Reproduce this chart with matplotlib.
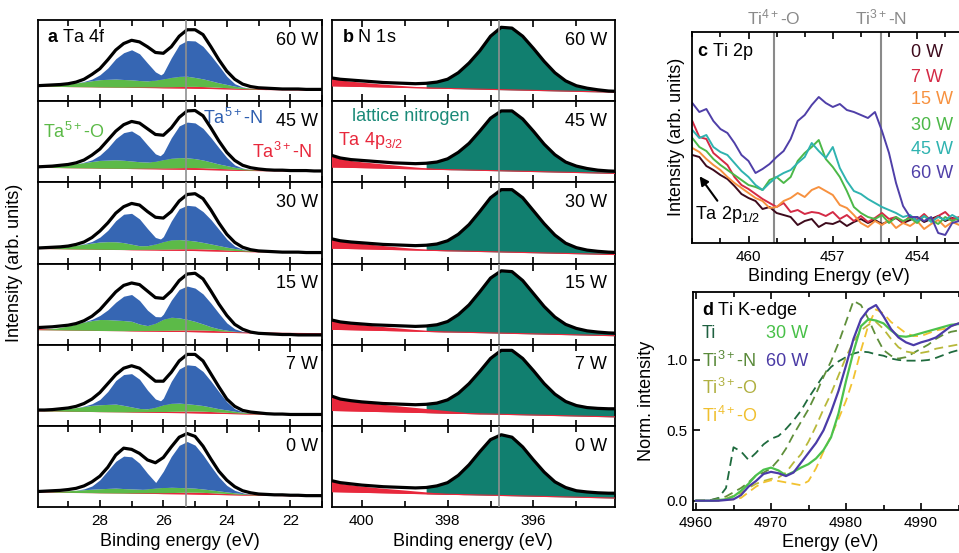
import matplotlib
matplotlib.use('Agg')
import matplotlib.pyplot as plt
import numpy as np
from matplotlib.ticker import MultipleLocator, FixedLocator, NullLocator

plt.rcParams['font.family'] = ['Liberation Sans', 'DejaVu Sans']
plt.rcParams['mathtext.fontset'] = 'custom'
plt.rcParams['mathtext.rm'] = 'Liberation Sans'
plt.rcParams['mathtext.it'] = 'Liberation Sans:italic'
plt.rcParams['mathtext.bf'] = 'Liberation Sans:bold'
plt.rcParams['axes.linewidth'] = 1.3
plt.rcParams['xtick.labelsize'] = 11
plt.rcParams['ytick.labelsize'] = 11

powers = ['60 W', '45 W', '30 W', '15 W', '7 W', '0 W']

# ---- a: Ta 4f (rows follow powers, top to bottom) ----
ta_energy = np.linspace(30.0, 21.0, 37)
ta_ticks = [28, 26, 24, 22]
ta_envelope = [
    [19, 19.5, 20, 20.5, 21.5, 23.5, 27, 33, 40, 51, 63, 71, 75, 73, 67, 60, 59, 67, 80, 88,
     88, 82, 67, 51, 37, 27, 21, 18, 16.5, 16, 15.5, 15, 15, 15, 14.5, 14.5, 14.5],
    [19, 19.5, 20, 21, 22, 24, 27.5, 33.5, 41, 52, 63, 71, 75, 73, 66, 59, 58, 67, 80, 88,
     88.5, 82, 67, 51, 37, 27, 21, 18, 16.5, 15.5, 15, 15, 14.5, 14.5, 14.5, 14, 14],
    [19, 19.5, 20, 20.5, 21.5, 23.5, 26.5, 32, 40, 50, 62, 70, 74, 72, 64, 57, 56, 64, 77, 85,
     86, 80, 66, 50, 36, 26, 20, 17, 15.5, 15, 14.5, 14, 14, 14, 13.5, 13.5, 13.5],
    [21, 21.5, 22, 23, 24, 26, 29.5, 35, 43, 54, 65, 73, 76, 74, 66, 58, 57, 66, 79, 87,
     88, 81, 66, 50, 36, 25, 19, 15.5, 14, 13.5, 13, 12.5, 12.5, 12, 12, 12, 12],
    [19.5, 19.5, 20, 21, 22, 24, 27.5, 33, 41, 52, 63, 71, 74, 71, 63, 55, 55, 66, 80, 88,
     88, 80, 64, 48, 33, 24, 19, 17, 16, 15, 14.5, 14.5, 14, 14, 14, 14, 14],
    [19, 19.5, 20, 20.5, 21.5, 23, 26, 31, 38, 49, 64, 72.5, 71, 66, 58, 54.5, 61, 74, 86, 90.5,
     87, 75, 59, 44, 33, 25, 20, 17.5, 16, 15.5, 15, 15, 14.5, 14.5, 14, 14, 14],
]
ta_background = [18.5, 18.4, 18.3, 18.2, 18.0, 17.9, 17.8, 17.7, 17.5, 17.4,
                 17.3, 17.2, 17.0, 16.9, 16.8, 16.7, 16.5, 16.4, 16.3, 16.2,
                 16.0, 15.8, 15.6, 15.4, 15.2, 15.0, 14.8, 14.6, 14.5, 14.3,
                 14.2, 14.0, 13.9, 13.8, 13.7, 13.6, 13.5]
ta3_n = [0] * 12 + [0.3, 0.5, 0.7, 0.9, 1.1, 1.4, 1.7, 2.0, 2.2, 2.2, 2.0, 1.7, 1.4, 1.0,
                    0.7, 0.4, 0.2] + [0] * 8
ta5_o = [
    [0, 0.3, 1, 2, 3, 4.5, 6, 7.5, 9, 9.5, 10, 9.5, 9, 8, 7.5, 8.5, 10, 11.5, 12.5, 12.5,
     11, 9.5, 7.5, 5.5, 4, 2.5, 1.5, 0.8, 0.3, 0, 0, 0, 0, 0, 0, 0, 0],
    [0, 0.3, 1, 2, 3.5, 5, 6.5, 8, 9.5, 10, 10.5, 10, 9, 8, 7.5, 8.5, 10.5, 12, 12.5, 12,
     11, 9.5, 7.5, 5.5, 4, 2.5, 1.5, 0.8, 0.3, 0, 0, 0, 0, 0, 0, 0, 0],
    [0, 0.3, 1, 2, 3, 4.5, 6, 7.5, 9, 9.5, 9.5, 8.5, 6.5, 4.5, 4.5, 6.5, 9.5, 11.5, 11.5, 10.5,
     9.5, 8, 6.5, 5, 3.5, 2.5, 1.5, 0.8, 0.3, 0, 0, 0, 0, 0, 0, 0, 0],
    [0, 0.5, 1.5, 3, 5, 7.5, 10, 12, 13.5, 13.5, 13, 12.5, 11.5, 8, 6, 9, 14, 16, 15, 13,
     10.5, 7.5, 4.5, 2.5, 1.2, 0.5, 0.2, 0, 0, 0, 0, 0, 0, 0, 0, 0, 0],
    [0, 0.3, 1, 2, 3, 4.5, 6, 7.5, 8.5, 9, 9.5, 8, 6, 4, 3.5, 5.5, 8.5, 10, 10, 9,
     8, 7, 5.5, 4, 3, 2, 1.2, 0.6, 0.2, 0, 0, 0, 0, 0, 0, 0, 0],
    [0, 0.2, 0.5, 1.2, 2, 2.8, 3.5, 4.2, 5, 5.5, 6, 5.5, 5, 4.5, 5, 6, 6.5, 6.5, 6, 5.5,
     5, 4.2, 3.5, 2.8, 2, 1.5, 1, 0.5, 0.3, 0, 0, 0, 0, 0, 0, 0, 0],
]
ta5_n_high = [
    [0, 0, 0, 0, 0, 0, 0.5, 2, 6, 14, 25, 33, 37, 33, 22, 10, 3, 0.5, 0, 0] + [0] * 17,
    [0, 0, 0, 0, 0, 0, 0.5, 2, 6.5, 15, 26, 34, 37, 32, 21, 9, 3, 0.5, 0, 0] + [0] * 17,
    [0, 0, 0, 0, 0, 0, 0.5, 2, 6, 14, 26, 35, 38, 33, 21, 8, 2, 0.3, 0, 0] + [0] * 17,
    [0, 0, 0, 0, 0, 0, 0.3, 1.5, 5, 12, 22, 30, 33, 29, 19, 8, 2.5, 0.3, 0, 0] + [0] * 17,
    [0, 0, 0, 0, 0, 0, 0.5, 2, 6.5, 16, 29, 38, 41, 36, 23, 10, 3.5, 0.5, 0, 0] + [0] * 17,
    [0, 0, 0, 0, 0, 0, 1, 4, 11, 22, 33, 40, 39.5, 32, 19, 7, 1.5, 0, 0, 0] + [0] * 17,
]
ta5_n_low = [
    [0] * 14 + [0, 1, 7, 24, 39, 44, 45, 40, 31, 21, 10, 3, 0.5, 0] + [0] * 9,
    [0] * 14 + [0, 1.5, 8, 25, 39, 44, 44, 39, 30, 20, 10, 3, 0.5, 0] + [0] * 9,
    [0] * 14 + [0, 0.5, 6, 23, 38, 43, 43, 38, 30, 20, 10, 3, 0.5, 0] + [0] * 9,
    [0] * 14 + [0, 1, 6, 21, 35, 41, 41, 37, 29, 19, 9, 3, 0.5, 0] + [0] * 9,
    [0] * 14 + [0, 1.5, 8, 27, 42, 48, 48, 42, 32, 21, 10, 3, 0.5, 0] + [0] * 9,
    [0] * 13 + [0, 2, 6, 20, 38, 52, 57, 53, 42, 29, 17, 8, 3, 1, 0] + [0] * 9,
]

# ---- b: N 1s ----
n1s_energy = np.linspace(400.75, 394.0, 28)
n1s_ticks = [400, 398, 396]
n1s_envelope = [
    [29, 27, 26, 25, 24, 23, 22.5, 22, 21.5, 22, 23.5, 27, 35, 47, 62, 80, 91, 90, 80, 65,
     49, 35, 25, 19, 16, 14, 12.5, 12],
    [34, 30, 28, 27, 26, 25, 24, 23.5, 23, 23.5, 25, 29, 37, 48, 63, 79, 88, 88, 78, 63,
     47, 34, 25, 20, 17, 15, 14, 13.5],
    [31, 28, 26.5, 25.5, 24.5, 23.5, 23, 22.5, 22, 22.5, 24, 28, 36, 48, 64, 81, 91, 91, 81, 65,
     49, 35, 25, 19.5, 16.5, 15, 14, 13.5],
    [31, 28, 26.5, 25.5, 24.5, 24, 23.5, 23, 22.5, 23, 24.5, 28.5, 37, 49, 65, 82, 91, 90, 79, 63,
     47, 34, 25, 20, 17, 15.5, 14.5, 14],
    [37.5, 33, 31, 29.5, 28.5, 27.5, 27, 26.5, 26, 26.5, 28, 32, 40, 52, 67, 83, 93, 93, 83, 68,
     52, 39, 30, 25, 22.5, 21.5, 21, 21],
    [33, 30, 28.5, 27, 26, 25, 24.5, 24, 23.5, 24, 26, 30, 39, 52, 68, 83, 89, 86, 74, 58,
     43, 31, 24, 20, 18.5, 17.5, 17, 17],
]
n1s_background = [19.0, 18.7, 18.4, 18.1, 17.8, 17.5, 17.2, 16.9, 16.6, 16.3,
                  16.0, 15.7, 15.4, 15.1, 14.8, 14.5, 14.2, 13.9, 13.6, 13.3,
                  13.0, 12.7, 12.4, 12.1, 11.8, 11.5, 11.2, 10.9]
ta4p = [
    [9.5, 7.5, 6.2, 5.2, 4.3, 3.5, 2.8, 2.1, 1.5, 1.0, 0.5, 0.2] + [0] * 16,
    [14, 10.5, 8.5, 7.2, 6.2, 5.2, 4.2, 3.2, 2.3, 1.5, 0.8, 0.3] + [0] * 16,
    [11.5, 9, 7.6, 6.6, 5.6, 4.6, 3.7, 2.8, 2, 1.3, 0.7, 0.3] + [0] * 16,
    [11.5, 9, 7.6, 6.6, 5.6, 4.8, 3.9, 3, 2.1, 1.4, 0.7, 0.3] + [0] * 16,
    [17.5, 14, 12.5, 11, 10, 9, 8, 7, 6, 5, 4, 3, 2, 1, 0.4] + [0] * 13,
    [13.5, 10.5, 9, 7.6, 6.6, 5.6, 4.8, 4, 3.1, 2.3, 1.5, 0.8, 0.3] + [0] * 15,
]
lattice_n_start = 398.5

# ---- c: Ti 2p ----
ti2p_energy = np.linspace(462.0, 452.5, 39)
ti2p_ticks = [460, 457, 454]
ti2p_labels = ['0 W', '7 W', '15 W', '30 W', '45 W', '60 W']
ti2p_0w = [88, 86, 77, 73, 68, 64, 57, 49, 45, 42, 34, 36, 30, 28, 26, 18, 22, 24, 16, 20,
           19, 22, 17, 21, 24, 20, 23, 19, 22, 25, 20, 23, 26, 21, 24, 27, 22, 25, 23]
ti2p_7w = [122, 106, 104, 90, 84, 78, 66, 58, 54, 49, 44, 40, 36, 40, 31, 33, 29, 31, 30, 27,
           31, 24, 28, 22, 27, 21, 25, 30, 24, 26, 20, 27, 23, 29, 22, 27, 31, 24, 26]
ti2p_15w = [95, 91, 84, 78, 73, 66, 60, 55, 50, 45, 42, 35, 36, 42, 45, 50, 46, 53, 56, 52,
            48, 38, 35, 28, 20, 16, 22, 18, 23, 15, 20, 17, 22, 14, 19, 23, 16, 21, 18]
ti2p_30w = [105, 96, 92, 84, 78, 73, 68, 63, 58, 56, 53, 63, 66, 60, 66, 82, 90, 96, 103, 84,
            76, 66, 52, 36, 30, 26, 24, 28, 20, 26, 22, 25, 20, 27, 23, 19, 26, 22, 25]
ti2p_45w = [113, 105, 108, 96, 91, 88, 80, 72, 66, 58, 53, 60, 66, 70, 73, 80, 86, 100, 92, 85,
            96, 75, 62, 52, 49, 44, 40, 36, 33, 30, 26, 28, 22, 27, 21, 26, 23, 28, 24]
ti2p_60w = [140, 131, 134, 122, 114, 110, 100, 88, 82, 70, 74, 79, 86, 92, 104, 122, 128, 138, 146, 140,
            136, 139, 133, 131, 128, 125, 131, 112, 90, 60, 37, 26, 26, 22, 26, 10, 8, 20, 22]

# ---- d: Ti K-edge ----
tik_energy = np.arange(4960, 4997)
tik_ti = [0, 0, 0.005, 0.02, 0.09, 0.38, 0.35, 0.29, 0.34, 0.40, 0.44, 0.46, 0.51, 0.57, 0.64,
          0.73, 0.81, 0.89, 0.95, 0.99, 1.02, 1.045, 1.06, 1.055, 1.04, 1.03, 1.01, 1.0, 0.995,
          0.995, 0.995, 1.0, 1.015, 1.035, 1.055, 1.07, 1.08]
tik_ti3n = [0, 0, 0.005, 0.015, 0.03, 0.06, 0.09, 0.13, 0.18, 0.20, 0.23, 0.29, 0.37, 0.47, 0.56,
            0.65, 0.76, 0.88, 0.99, 1.12, 1.27, 1.42, 1.39, 1.29, 1.17, 1.07, 1.03, 1.01, 1.02,
            1.05, 1.08, 1.11, 1.15, 1.18, 1.2, 1.21, 1.22]
tik_ti3o = [0, 0, 0, 0.005, 0.015, 0.035, 0.055, 0.09, 0.12, 0.14, 0.155, 0.165, 0.20, 0.27, 0.33,
            0.42, 0.53, 0.65, 0.76, 0.89, 1.02, 1.13, 1.21, 1.25, 1.27, 1.22, 1.15, 1.09, 1.06,
            1.05, 1.05, 1.06, 1.08, 1.09, 1.10, 1.11, 1.12]
tik_ti4o = [0, 0, 0, 0, 0.005, 0.01, 0.02, 0.06, 0.10, 0.13, 0.145, 0.14, 0.13, 0.12, 0.11,
            0.14, 0.23, 0.35, 0.46, 0.58, 0.71, 0.87, 1.07, 1.25, 1.36, 1.33, 1.27, 1.23, 1.19,
            1.17, 1.17, 1.19, 1.21, 1.22, 1.24, 1.26, 1.27]
tik_30w = [0, 0, 0, 0.005, 0.01, 0.03, 0.07, 0.12, 0.18, 0.22, 0.235, 0.215, 0.18, 0.205, 0.235,
           0.26, 0.30, 0.36, 0.45, 0.62, 0.85, 1.06, 1.24, 1.29, 1.28, 1.26, 1.21, 1.17, 1.165,
           1.175, 1.19, 1.205, 1.22, 1.235, 1.25, 1.255, 1.26]
tik_60w = [0, 0, 0, 0, 0.005, 0.01, 0.04, 0.10, 0.14, 0.19, 0.205, 0.195, 0.175, 0.20, 0.27,
           0.34, 0.41, 0.50, 0.63, 0.78, 0.96, 1.15, 1.29, 1.36, 1.39, 1.31, 1.22, 1.16, 1.125,
           1.105, 1.125, 1.14, 1.16, 1.20, 1.24, 1.26, 1.27]

BLUE = '#3666b3'
GREEN = '#5cba48'
RED = '#e8283c'
TEAL = '#117f6f'
GREY = '#8f8f8f'

W, H = 959.0, 553.0
fig = plt.figure(figsize=(W / 100, H / 100), dpi=100)


def px_axes(x0, y0, x1, y1):
    return fig.add_axes([x0 / W, 1 - y1 / H, (x1 - x0) / W, (y1 - y0) / H])


def stack_ticks(ax, major, last):
    ax.xaxis.set_major_locator(FixedLocator(major))
    ax.xaxis.set_minor_locator(MultipleLocator(1))
    ax.yaxis.set_major_locator(NullLocator())
    ax.tick_params(which='both', direction='in', top=True, bottom=True, width=1.2,
                   labelbottom=last, pad=5)
    ax.tick_params(which='major', length=5)
    ax.tick_params(which='minor', length=4)
    ax.set_ylim(0, 100)


sub_h = (507 - 20) / 6.0
for k, p in enumerate(powers):
    top = 20 + k * sub_h
    last = k == len(powers) - 1

    # a
    ax = px_axes(38, top, 322, top + sub_h)
    bg = np.array(ta_background)
    red_top = bg + np.array(ta3_n)
    green_top = red_top + np.array(ta5_o[k])
    ax.fill_between(ta_energy, bg, red_top, color=RED, lw=0, zorder=2)
    ax.plot(ta_energy, bg, color=RED, lw=0.8, zorder=2)
    ax.fill_between(ta_energy, red_top, green_top, color=GREEN, lw=0, zorder=2)
    ax.fill_between(ta_energy, green_top, green_top + np.array(ta5_n_high[k]),
                    color=BLUE, lw=0, zorder=3)
    ax.fill_between(ta_energy, green_top, green_top + np.array(ta5_n_low[k]),
                    color=BLUE, lw=0, zorder=3)
    ax.plot(ta_energy, ta_envelope[k], color='black', lw=2.3, zorder=5)
    ax.axvline(25.3, color=GREY, lw=1.2, zorder=6)
    ax.set_xlim(29.95, 21.0)
    stack_ticks(ax, ta_ticks, last)
    ax.text(0.986, 0.75, p, transform=ax.transAxes, ha='right', va='center', fontsize=13)
    if k == 0:
        ax.text(0.03, 0.79, r'$\mathbf{a}$ Ta 4f', transform=ax.transAxes,
                ha='left', va='center', fontsize=13)
    if k == 1:
        ax.text(0.018, 0.62, r'Ta$^{5+}$-O', color=GREEN, transform=ax.transAxes,
                ha='left', va='center', fontsize=13)
        ax.text(0.58, 0.79, r'Ta$^{5+}$-N', color='#2e5fb0', transform=ax.transAxes,
                ha='left', va='center', fontsize=13)
        ax.text(0.965, 0.37, r'Ta$^{3+}$-N', color=RED, transform=ax.transAxes,
                ha='right', va='center', fontsize=13)
    if last:
        ax.set_xlabel('Binding energy (eV)', fontsize=13, labelpad=4)

    # b
    ax = px_axes(331.7, top, 615, top + sub_h)
    nbg = np.array(n1s_background)
    env = np.array(n1s_envelope[k])
    ax.fill_between(n1s_energy, nbg, env, where=n1s_energy <= lattice_n_start,
                    color=TEAL, lw=0, zorder=2)
    ax.fill_between(n1s_energy, nbg, nbg + np.array(ta4p[k]), color=RED, lw=0, zorder=3)
    ax.plot(n1s_energy, nbg, color=RED, lw=0.8, zorder=3)
    ax.plot(n1s_energy, env, color='black', lw=2.3, zorder=5)
    ax.axvline(396.8, color=GREY, lw=1.2, zorder=6)
    ax.set_xlim(400.7, 394.1)
    stack_ticks(ax, n1s_ticks, last)
    ax.text(0.971, 0.75, p, transform=ax.transAxes, ha='right', va='center', fontsize=13)
    if k == 0:
        ax.text(0.035, 0.78, r'$\mathbf{b}$ N 1s', transform=ax.transAxes,
                ha='left', va='center', fontsize=13)
    if k == 1:
        ax.text(0.07, 0.81, 'lattice nitrogen', color='#1a8a78', transform=ax.transAxes,
                ha='left', va='center', fontsize=13)
        ax.text(0.022, 0.52, r'Ta 4p$_{3/2}$', color=RED, transform=ax.transAxes,
                ha='left', va='center', fontsize=13)
    if last:
        ax.set_xlabel('Binding energy (eV)', fontsize=13, labelpad=4)

fig.text(15 / W, 1 - 263 / H, 'Intensity (arb. units)', rotation=90,
         ha='center', va='center', fontsize=13)

# c
ax = px_axes(692.3, 31.7, 966, 243)
c_colors = ['#3d0a1c', '#d42a45', '#f7913f', '#4cb848', '#2fb3b0', '#4f3fa8']
c_series = [ti2p_0w, ti2p_7w, ti2p_15w, ti2p_30w, ti2p_45w, ti2p_60w]
for vals, col in zip(c_series, c_colors):
    ax.plot(ti2p_energy, vals, color=col, lw=1.4)
for e in (459.1, 455.3):
    ax.axvline(e, color='#8a8a8a', lw=1.5, zorder=0)
ax.text(459.1, 1.02, r'Ti$^{4+}$-O', color='#8a8a8a', fontsize=12.5, ha='center',
        va='bottom', transform=ax.get_xaxis_transform())
ax.text(455.3, 1.02, r'Ti$^{3+}$-N', color='#8a8a8a', fontsize=12.5, ha='center',
        va='bottom', transform=ax.get_xaxis_transform())
ax.set_xlim(462.0, 452.26)
ax.set_ylim(0, 211.3)
ax.xaxis.set_major_locator(FixedLocator(ti2p_ticks))
ax.xaxis.set_minor_locator(MultipleLocator(1))
ax.yaxis.set_major_locator(NullLocator())
ax.tick_params(which='both', direction='in', top=True, width=1.2, pad=5)
ax.tick_params(which='major', length=5)
ax.tick_params(which='minor', length=3.5)
ax.text(461.83, 191, r'$\mathbf{c}$ Ti 2p', fontsize=13, ha='left', va='center')
for lab, col, yy in zip(ti2p_labels, c_colors, [190, 165, 143, 118, 93, 70]):
    ax.text(454.2, yy, lab, color=col, fontsize=13, ha='left', va='center')
ax.annotate('', xy=(461.8, 69), xytext=(461.05, 40),
            arrowprops=dict(arrowstyle='-|>', color='black', lw=1.5, mutation_scale=13))
ax.text(461.9, 29, r'Ta 2p$_{1/2}$', fontsize=13, ha='left', va='center')
ax.set_xlabel('Binding Energy (eV)', fontsize=13, labelpad=3)
ax.set_ylabel('Intensity (arb. units)', fontsize=13)
ax.yaxis.set_label_coords(-0.027, 0.5)

# d
ax = px_axes(693.3, 291.7, 966, 510)
ax.plot(tik_energy, tik_ti, color='#1f6b3e', lw=1.3, ls=(0, (5, 3)))
ax.plot(tik_energy, tik_ti3n, color='#5f8f3a', lw=1.3, ls=(0, (5, 3)))
ax.plot(tik_energy, tik_ti3o, color='#b8b83a', lw=1.3, ls=(0, (5, 3)))
ax.plot(tik_energy, tik_ti4o, color='#f2c230', lw=1.3, ls=(0, (5, 3)))
ax.plot(tik_energy, tik_30w, color='#4cc24c', lw=1.6)
ax.plot(tik_energy, tik_60w, color='#4b3ba8', lw=1.6)
ax.set_xlim(4959.64, 4996.0)
ax.set_ylim(-0.066, 1.485)
ax.xaxis.set_major_locator(MultipleLocator(10))
ax.xaxis.set_minor_locator(MultipleLocator(5))
ax.set_yticks([0, 0.5, 1.0])
ax.set_yticklabels(['0.0', '0.5', '1.0'])
ax.tick_params(which='both', direction='in', top=True, width=1.2, pad=4)
ax.tick_params(which='major', length=5)
ax.tick_params(which='minor', length=3.5)
ax.text(4960.76, 1.35, r'$\mathbf{d}$ Ti K-edge', fontsize=13, ha='left', va='center')
ax.text(4960.76, 1.19, 'Ti', color='#1f6040', fontsize=13, ha='left', va='center')
ax.text(4960.76, 0.99, r'Ti$^{3+}$-N', color='#5a8a3a', fontsize=13, ha='left', va='center')
ax.text(4960.76, 0.80, r'Ti$^{3+}$-O', color='#b0b040', fontsize=13, ha='left', va='center')
ax.text(4960.76, 0.60, r'Ti$^{4+}$-O', color='#f0c030', fontsize=13, ha='left', va='center')
ax.text(4969.4, 1.19, '30 W', color='#48c048', fontsize=13, ha='left', va='center')
ax.text(4969.4, 0.99, '60 W', color='#4a3aa5', fontsize=13, ha='left', va='center')
ax.set_xlabel('Energy (eV)', fontsize=13, labelpad=3)
ax.set_ylabel('Norm. intensity', fontsize=13)
ax.yaxis.set_label_coords(-0.14, 0.5)

fig.savefig('out.png', dpi=100)
